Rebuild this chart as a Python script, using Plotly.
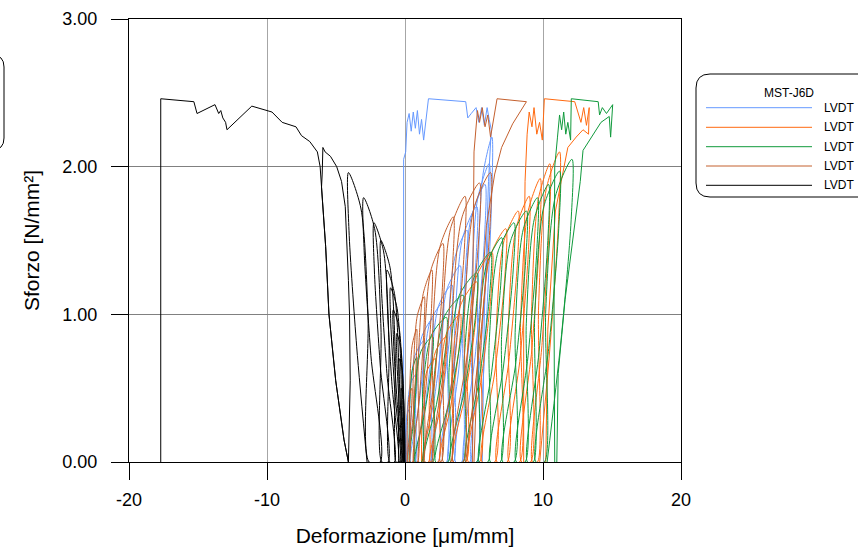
import plotly.graph_objects as go

# cyclic loops, one row per loop (x in um/mm, y in N/mm2)
blue_loop_x = [
    0.0, 0.02, 0.18, 0.45, 0.44, 0.27, 0.05,
    0.1, 0.14, 0.4, 0.85, 0.83, 0.55, 0.18,
    0.3, 0.35, 0.72, 1.35, 1.32, 0.93, 0.41,
    0.7, 0.77, 1.22, 2.0, 1.96, 1.48, 0.83,
    1.2, 1.28, 1.82, 2.75, 2.7, 2.13, 1.36,
    1.8, 1.88, 2.44, 3.4, 3.35, 2.76, 1.96,
    2.4, 2.48, 3.04, 4.0, 3.95, 3.36, 2.56,
    3.0, 3.08, 3.6, 4.5, 4.46, 3.9, 3.15,
    3.5, 3.59, 4.18, 5.2, 5.15, 4.52, 3.67,
    4.1, 4.19, 4.78, 5.8, 5.75, 5.12, 4.27,
    4.7, 4.77, 5.26, 6.1, 6.06, 5.54, 4.84,
    5.2, 5.26, 5.64, 6.3, 6.27, 5.86, 5.31,
]
blue_loop_y = [
    0, 0.19, 0.33, 0.38, 0.3, 0.15, 0,
    0, 0.3, 0.53, 0.6, 0.48, 0.24, 0,
    0, 0.41, 0.72, 0.82, 0.66, 0.33, 0,
    0, 0.49, 0.85, 0.97, 0.78, 0.39, 0,
    0, 0.54, 0.95, 1.08, 0.86, 0.43, 0,
    0, 0.6, 1.06, 1.2, 0.96, 0.48, 0,
    0, 0.67, 1.17, 1.33, 1.06, 0.53, 0,
    0, 0.79, 1.38, 1.57, 1.26, 0.63, 0,
    0, 0.87, 1.52, 1.73, 1.38, 0.69, 0,
    0, 0.94, 1.65, 1.88, 1.5, 0.75, 0,
    0, 1.01, 1.78, 2.02, 1.62, 0.81, 0,
    0, 1.1, 1.94, 2.2, 1.76, 0.88, 0,
]
blue_tail_x = [5.6, 5.75, 6.05, 6.25, 6.1, 5.95, 5.75, 5.55, 5.35, 5.15, 4.8, 4.55, 4.4,
               1.7, 1.35, 1.2, 1.05, 0.9, 0.75, 0.6, 0.45, 0.3, 0.15, 0.05, -0.1, -0.1]
blue_tail_y = [0, 1.0, 1.9, 2.25, 2.32, 2.4, 2.28, 2.4, 2.3, 2.4, 2.36, 2.33, 2.44,
               2.46, 2.18, 2.32, 2.22, 2.38, 2.26, 2.37, 2.24, 2.36, 2.3, 2.1, 2.05, 0]

orange_loop_x = [
    1.2, 1.25, 1.6, 2.2, 2.17, 1.8, 1.3,
    1.7, 1.77, 2.22, 3.0, 2.96, 2.48, 1.83,
    2.4, 2.48, 3.04, 4.0, 3.95, 3.36, 2.56,
    3.3, 3.4, 4.06, 5.2, 5.14, 4.44, 3.49,
    4.4, 4.5, 5.16, 6.3, 6.24, 5.54, 4.59,
    5.4, 5.5, 6.16, 7.3, 7.24, 6.54, 5.59,
    6.5, 6.59, 7.18, 8.2, 8.15, 7.52, 6.67,
    7.4, 7.48, 8.04, 9.0, 8.95, 8.36, 7.56,
    8.3, 8.38, 8.9, 9.8, 9.76, 9.2, 8.45,
    9.1, 9.17, 9.66, 10.5, 10.46, 9.94, 9.24,
    9.6, 9.68, 10.24, 11.2, 11.15, 10.56, 9.76,
]
orange_loop_y = [
    0, 0.35, 0.62, 0.7, 0.56, 0.28, 0,
    0, 0.43, 0.75, 0.85, 0.68, 0.34, 0,
    0, 0.5, 0.88, 1.0, 0.8, 0.4, 0,
    0, 0.61, 1.07, 1.22, 0.98, 0.49, 0,
    0, 0.71, 1.25, 1.42, 1.14, 0.57, 0,
    0, 0.79, 1.39, 1.58, 1.26, 0.63, 0,
    0, 0.85, 1.5, 1.7, 1.36, 0.68, 0,
    0, 0.9, 1.58, 1.8, 1.44, 0.72, 0,
    0, 0.96, 1.69, 1.92, 1.54, 0.77, 0,
    0, 1.01, 1.78, 2.02, 1.62, 0.81, 0,
    0, 1.05, 1.85, 2.1, 1.68, 0.84, 0,
]
orange_tail_x = [10.2, 10.35, 10.9, 11.8, 12.4, 12.9, 13.3, 13.35, 13.15, 12.95, 12.75, 12.55,
                 12.3, 10.1, 9.95, 9.75, 9.55, 9.35, 9.2, 9.0, 8.85, 8.7, 8.6, 8.6]
orange_tail_y = [0, 0.9, 1.7, 2.13, 2.2, 2.25, 2.22, 2.4, 2.28, 2.4, 2.3, 2.36,
                 2.44, 2.46, 2.18, 2.3, 2.22, 2.4, 2.27, 2.37, 2.22, 1.9, 1.0, 0]

green_loop_x = [
    0.3, 0.33, 0.52, 0.85, 0.83, 0.63, 0.36,
    0.6, 0.67, 1.16, 2.0, 1.96, 1.44, 0.74,
    1.2, 1.29, 1.92, 3.0, 2.95, 2.28, 1.38,
    2.0, 2.11, 2.88, 4.2, 4.13, 3.32, 2.22,
    3.1, 3.2, 3.94, 5.2, 5.14, 4.36, 3.31,
    4.2, 4.3, 5.0, 6.2, 6.14, 5.4, 4.4,
    5.2, 5.29, 5.92, 7.0, 6.95, 6.28, 5.38,
    6.0, 6.1, 6.76, 7.9, 7.84, 7.14, 6.19,
    6.9, 7.0, 7.66, 8.8, 8.74, 8.04, 7.09,
    7.9, 7.99, 8.58, 9.6, 9.55, 8.92, 8.07,
    8.7, 8.79, 9.38, 10.4, 10.35, 9.72, 8.87,
    9.3, 9.4, 10.06, 11.2, 11.14, 10.44, 9.49,
    10.1, 10.2, 10.9, 12.1, 12.04, 11.3, 10.3,
]
green_loop_y = [
    0, 0.36, 0.62, 0.71, 0.57, 0.28, 0,
    0, 0.43, 0.75, 0.85, 0.68, 0.34, 0,
    0, 0.49, 0.86, 0.98, 0.78, 0.39, 0,
    0, 0.57, 0.99, 1.13, 0.9, 0.45, 0,
    0, 0.64, 1.13, 1.28, 1.02, 0.51, 0,
    0, 0.71, 1.25, 1.42, 1.14, 0.57, 0,
    0, 0.76, 1.34, 1.52, 1.22, 0.61, 0,
    0, 0.81, 1.43, 1.62, 1.3, 0.65, 0,
    0, 0.85, 1.5, 1.7, 1.36, 0.68, 0,
    0, 0.9, 1.58, 1.79, 1.43, 0.72, 0,
    0, 0.94, 1.65, 1.88, 1.5, 0.75, 0,
    0, 0.99, 1.73, 1.97, 1.58, 0.79, 0,
    0, 1.03, 1.8, 2.05, 1.64, 0.82, 0,
]
green_tail_x = [11.0, 11.1, 11.6, 12.3, 12.7, 12.9, 13.5, 14.2, 14.8, 14.9, 15.05, 14.6, 14.3,
                14.1, 14.0, 12.05, 12.0, 11.8, 11.65, 11.5, 11.35, 11.2, 11.05, 10.85, 10.8, 10.85]
green_tail_y = [0, 0.6, 1.1, 1.6, 1.9, 2.11, 2.2, 2.3, 2.34, 2.2, 2.42, 2.36, 2.4,
                2.35, 2.44, 2.46, 2.18, 2.3, 2.22, 2.37, 2.25, 2.35, 2.2, 2.0, 1.0, 0]

sienna_loop_x = [
    0.15, 0.17, 0.29, 0.5, 0.49, 0.36, 0.19,
    0.3, 0.33, 0.52, 0.85, 0.83, 0.63, 0.36,
    0.55, 0.59, 0.89, 1.4, 1.37, 1.06, 0.64,
    0.9, 0.95, 1.32, 1.95, 1.92, 1.53, 1.0,
    1.3, 1.37, 1.88, 2.75, 2.71, 2.17, 1.45,
    1.9, 1.98, 2.54, 3.5, 3.45, 2.86, 2.06,
    2.6, 2.69, 3.3, 4.35, 4.3, 3.65, 2.78,
    3.3, 3.41, 4.14, 5.4, 5.34, 4.56, 3.51,
    4.2, 4.3, 5.0, 6.2, 6.14, 5.4, 4.4,
]
sienna_loop_y = [
    0, 0.25, 0.44, 0.5, 0.4, 0.2, 0,
    0, 0.45, 0.79, 0.9, 0.72, 0.36, 0,
    0, 0.56, 0.99, 1.12, 0.9, 0.45, 0,
    0, 0.65, 1.14, 1.3, 1.04, 0.52, 0,
    0, 0.74, 1.3, 1.48, 1.18, 0.59, 0,
    0, 0.83, 1.46, 1.66, 1.33, 0.66, 0,
    0, 0.9, 1.58, 1.8, 1.44, 0.72, 0,
    0, 0.95, 1.66, 1.89, 1.51, 0.76, 0,
    0, 0.98, 1.72, 1.96, 1.57, 0.78, 0,
]
sienna_tail_x = [5.0, 5.3, 5.9, 6.5, 7.0, 7.8, 8.8, 6.67, 6.2, 6.0, 5.8, 5.6, 5.4, 5.25, 5.0, 4.9, 4.9]
sienna_tail_y = [0, 0.8, 1.6, 1.95, 2.13, 2.29, 2.44, 2.46, 2.2, 2.35, 2.27, 2.4, 2.3, 2.38, 2.1, 1.0, 0]

black_loop_x = [
    0.0, -0.01, -0.06, -0.15, -0.15, -0.09, -0.02,
    -0.02, -0.03, -0.12, -0.28, -0.27, -0.18, -0.05,
    -0.05, -0.07, -0.2, -0.42, -0.41, -0.27, -0.09,
    -0.1, -0.13, -0.3, -0.6, -0.59, -0.4, -0.15,
    -0.15, -0.19, -0.43, -0.85, -0.83, -0.57, -0.22,
    -0.25, -0.29, -0.57, -1.05, -1.03, -0.73, -0.33,
    -0.4, -0.45, -0.76, -1.3, -1.27, -0.94, -0.49,
    -0.65, -0.71, -1.09, -1.75, -1.72, -1.31, -0.76,
    -1.1, -1.16, -1.56, -2.25, -2.22, -1.79, -1.22,
    -1.67, -1.74, -2.2, -3.0, -2.96, -2.47, -1.8,
    -2.6, -2.68, -3.2, -4.1, -4.06, -3.5, -2.75,
]
black_loop_y = [
    0, 0.15, 0.26, 0.3, 0.24, 0.12, 0,
    0, 0.25, 0.44, 0.5, 0.4, 0.2, 0,
    0, 0.35, 0.62, 0.7, 0.56, 0.28, 0,
    0, 0.44, 0.77, 0.87, 0.7, 0.35, 0,
    0, 0.52, 0.91, 1.03, 0.82, 0.41, 0,
    0, 0.59, 1.04, 1.18, 0.94, 0.47, 0,
    0, 0.65, 1.14, 1.3, 1.04, 0.52, 0,
    0, 0.75, 1.32, 1.5, 1.2, 0.6, 0,
    0, 0.81, 1.43, 1.62, 1.3, 0.65, 0,
    0, 0.9, 1.58, 1.79, 1.43, 0.72, 0,
    0, 0.98, 1.72, 1.96, 1.57, 0.78, 0,
]
black_tail_x = [-4.1, -3.97, -4.02, -4.1, -4.33, -4.6, -4.95, -5.4, -5.79, -5.95, -6.0, -6.05,
                -5.75, -5.51, -5.02, -4.42, -4.1, -4.42, -5.02, -5.51, -5.75, -6.05, -6.15,
                -6.35, -6.9, -7.5, -7.9, -8.9, -9.64, -11.1, -12.9, -13.0, -13.2, -13.35,
                -13.5, -13.77, -15.07, -15.3, -17.7, -17.7]
black_tail_y = [0, 0.55, 1.0, 1.23, 1.73, 1.9, 2.0, 2.07, 2.1, 2.13, 1.95, 1.86,
                1.46, 1.0, 0.55, 0.15, 0, 0.15, 0.55, 1.0, 1.46, 1.86, 2.0,
                2.1, 2.17, 2.21, 2.27, 2.3, 2.37, 2.41, 2.25, 2.3, 2.33, 2.38,
                2.36, 2.42, 2.36, 2.44, 2.46, 0]

x_ticks = [-20, -10, 0, 10, 20]
x_tick_text = ["-20", "-10", "0", "10", "20"]
y_ticks = [0, 1, 2, 3]
legend_title = "MST-J6D"
series_names = ["LVDT", "LVDT", "LVDT", "LVDT", "LVDT"]
colors = ["#6699FF", "#FF6A10", "#109A3C", "#C4602E", "#000000"]

series = [
    (blue_loop_x, blue_loop_y, blue_tail_x, blue_tail_y),
    (orange_loop_x, orange_loop_y, orange_tail_x, orange_tail_y),
    (green_loop_x, green_loop_y, green_tail_x, green_tail_y),
    (sienna_loop_x, sienna_loop_y, sienna_tail_x, sienna_tail_y),
    (black_loop_x, black_loop_y, black_tail_x, black_tail_y),
]

fig = go.Figure()
for (lx, ly, tx, ty), col, name in zip(series, colors, series_names):
    fig.add_trace(go.Scatter(x=lx, y=ly, mode='lines', name=name,
                             line=dict(color=col, width=1, shape='spline', smoothing=0.8)))
    fig.add_trace(go.Scatter(x=tx, y=ty, mode='lines', name=name,
                             line=dict(color=col, width=1)))

# plot area in pixels: x 129..681, y 19..462
L, R, T, B = 129, 681, 19, 462


def fx(p):
    return (p - L) / (R - L)


def fy(p):
    return (B - p) / (B - T)


def rounded_box(x0, y0, x1, y1, r):
    # open on the right, rounded on the left
    return (f"M {fx(x1)},{fy(y0)} L {fx(x0 + r)},{fy(y0)} "
            f"Q {fx(x0)},{fy(y0)} {fx(x0)},{fy(y0 + r)} "
            f"L {fx(x0)},{fy(y1 - r)} Q {fx(x0)},{fy(y1)} {fx(x0 + r)},{fy(y1)} "
            f"L {fx(x1)},{fy(y1)}")


def rounded_box_right(x0, y0, x1, y1, r):
    return (f"M {fx(x0)},{fy(y0)} L {fx(x1 - r)},{fy(y0)} "
            f"Q {fx(x1)},{fy(y0)} {fx(x1)},{fy(y0 + r)} "
            f"L {fx(x1)},{fy(y1 - r)} Q {fx(x1)},{fy(y1)} {fx(x1 - r)},{fy(y1)} "
            f"L {fx(x0)},{fy(y1)}")


shapes = [
    dict(type='path', xref='paper', yref='paper', path=rounded_box(696, 74, 880, 197, 14),
         line=dict(color='black', width=1)),
    dict(type='path', xref='paper', yref='paper', path=rounded_box_right(-30, 55, 4, 150, 12),
         line=dict(color='black', width=1)),
]
annotations = [
    dict(text=legend_title, x=fx(762), y=fy(93), xref='paper', yref='paper',
         xanchor='left', yanchor='middle', showarrow=False, font=dict(size=12)),
]
legend_rows = [107.7, 127.3, 146.7, 166, 185.3]
for yy, col, name in zip(legend_rows, colors, series_names):
    shapes.append(dict(type='line', xref='paper', yref='paper', x0=fx(706), x1=fx(812),
                       y0=fy(yy), y1=fy(yy), line=dict(color=col, width=1)))
    annotations.append(dict(text=name, x=fx(822), y=fy(yy), xref='paper', yref='paper',
                            xanchor='left', yanchor='middle', showarrow=False,
                            font=dict(size=12)))

fig.update_layout(
    width=858, height=547,
    margin=dict(l=L, r=858 - R, t=T, b=547 - B),
    plot_bgcolor='white', paper_bgcolor='white',
    showlegend=False,
    font=dict(family='Liberation Sans, Arial, sans-serif', color='black'),
    shapes=shapes, annotations=annotations,
)
fig.update_xaxes(range=[-20, 20], tickvals=x_ticks, ticktext=x_tick_text, ticks='outside',
                 ticklen=17, tickcolor='black', showline=True, linecolor='black', linewidth=1,
                 mirror=True, showgrid=True, gridcolor='#a6a6a6', gridwidth=1, zeroline=False,
                 tickfont=dict(size=18), automargin=False, ticklabelstandoff=4,
                 title=dict(text='Deformazione [μm/mm]', font=dict(size=21), standoff=22))
fig.update_yaxes(range=[0, 3], tickvals=y_ticks, tickformat='.2f', ticks='outside',
                 ticklen=17, tickcolor='black', showline=True, linecolor='black', linewidth=1,
                 mirror=True, showgrid=True, gridcolor='#808080', gridwidth=1, zeroline=False,
                 tickfont=dict(size=18), automargin=False, ticklabelstandoff=10,
                 title=dict(text='Sforzo [N/mm²]', font=dict(size=21), standoff=17))

fig.write_html("out.html", config={'displayModeBar': False},
               post_script="document.body.style.margin = '0';")
